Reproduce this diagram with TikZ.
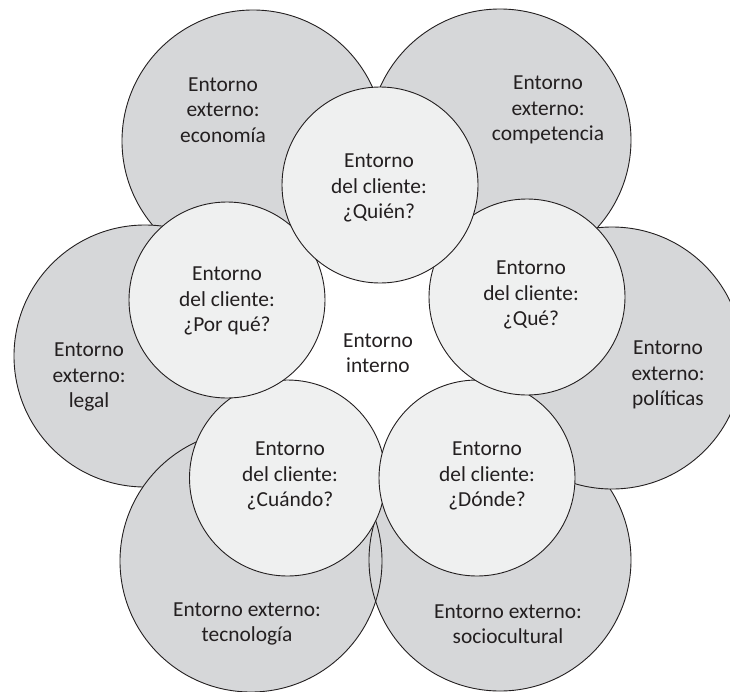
\documentclass[tikz,border=0pt]{standalone}
\usepackage{fontspec}
\setmainfont{Carlito}
\definecolor{ink}{RGB}{35,31,32}
\definecolor{outerfill}{RGB}{214,215,217}
\definecolor{innerfill}{RGB}{239,240,240}
\begin{document}
\begin{tikzpicture}[x=1pt,y=-1pt,
  outer/.style={circle, draw=ink, line width=0.9pt, fill=outerfill,
                minimum size=262pt, inner sep=0pt},
  inner/.style={circle, draw=ink, line width=0.9pt, fill=innerfill,
                minimum size=196pt, inner sep=0pt},
  lbl/.style={align=center, text=ink, inner sep=0pt,
              font=\fontsize{21.4}{25.5}\selectfont}]
\useasboundingbox (0,0) rectangle (730,691);
\clip (0,0) rectangle (730,691);

% external environment: six large circles
\node[outer] (soc) at (500,560) {};
\node[outer] (pol) at (612,358) {};
\node[outer] (com) at (500,140) {};
\node[outer] (eco) at (253,141) {};
\node[outer] (leg) at (145,356) {};
\node[outer] (tec) at (251,561) {};
% the sociocultural rim stays visible where it passes under the technology circle
\begin{scope}
  \clip (tec.center) circle[radius=131pt];
  \draw[ink, line width=0.9pt] (soc.center) circle[radius=131pt];
\end{scope}

% client environment: five smaller circles
\node[inner] (cua) at (287.5,478) {};
\node[inner] (don) at (477,478) {};
\node[inner] (que) at (527,297) {};
\node[inner] (por) at (227,300) {};
\node[inner] (qui) at (380,185) {};

% labels
\node[lbl] (t-eco) at (223,110) {Entorno\\externo:\\economía};
\node[lbl] (t-com) at (548,110) {Entorno\\externo:\\competencia};
\node[lbl] (t-leg) at (89,377) {Entorno\\externo:\\legal};
\node[lbl] (t-pol) at (668,375) {Entorno\\externo:\\políticas};
\node[lbl] (t-tec) at (247,624) {Entorno externo:\\tecnología};
\node[lbl] (t-soc) at (508,624) {Entorno externo:\\sociocultural};

\node[lbl] (t-qui) at (379,188) {Entorno\\del cliente:\\¿Quién?};
\node[lbl] (t-que) at (531,295) {Entorno\\del cliente:\\¿Qué?};
\node[lbl] (t-don) at (487,476) {Entorno\\del cliente:\\¿Dónde?};
\node[lbl] (t-cua) at (290,476) {Entorno\\del cliente:\\¿Cuándo?};
\node[lbl] (t-por) at (227,301) {Entorno\\del cliente:\\¿Por qué?};

\node[lbl] (t-int) at (378,353) {Entorno\\interno};
\end{tikzpicture}
\end{document}
